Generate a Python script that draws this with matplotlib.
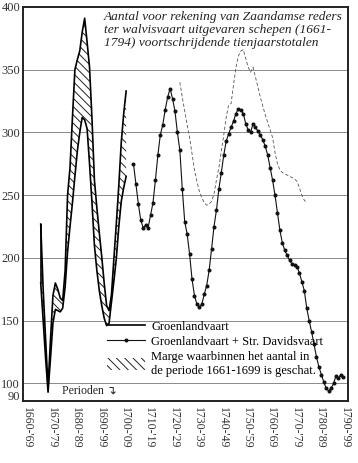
import numpy as np
import matplotlib
matplotlib.use("Agg")
import matplotlib.pyplot as plt
from matplotlib.lines import Line2D
from matplotlib.patches import Patch

# ten-year moving totals, indexed by first year of each window
est_years = np.arange(1661, 1697)
est_high = [227, 175, 135, 97, 135, 170, 180, 175, 168, 166, 190, 250, 272, 312,
            350, 358, 365, 380, 391, 372, 352, 311, 262, 240, 220, 201, 180, 162,
            158, 171, 200, 228, 258, 292, 315, 333]
est_low = [180, 150, 120, 93, 120, 148, 159, 158, 157, 160, 177, 205, 225, 244,
           265, 285, 300, 312, 310, 303, 275, 244, 210, 190, 174, 162, 152, 146,
           148, 165, 182, 200, 225, 245, 256, 265]

tot_years = np.arange(1699, 1786)
tot_vals = [275, 259, 243, 230, 224, 226, 224, 234, 244, 262, 282, 298, 306, 318,
            328, 335, 327, 317, 300, 286, 255, 229, 219, 203, 183, 170, 163, 161,
            163, 171, 178, 190, 207, 225, 238, 255, 268, 282, 293, 299, 304, 309,
            315, 319, 318, 315, 307, 302, 300, 307, 304, 301, 298, 294, 289, 282,
            272, 262, 250, 236, 222, 212, 206, 202, 198, 195, 194, 193, 188, 181,
            174, 160, 150, 141, 131, 121, 113, 107, 101, 96, 94, 96, 100, 106, 104,
            107, 105]

up_years = np.arange(1718, 1771)
up_vals = [340, 328, 317, 306, 296, 283, 270, 261, 253, 248, 244, 242, 243, 245,
           251, 262, 272, 285, 298, 312, 322, 323, 338, 352, 361, 365, 366, 359,
           352, 348, 352, 344, 336, 328, 321, 314, 308, 302, 296, 284, 275, 270,
           268, 267, 266, 265, 264, 263, 261, 256, 250, 246, 244]

decades = np.arange(1660, 1800, 10)
xlabels = ["%d-'%02d" % (d, (d + 9) % 100) for d in decades]
yticks = [90, 100, 150, 200, 250, 300, 350, 400]

serif = ["Liberation Serif", "DejaVu Serif"]
plt.rcParams["font.family"] = serif
plt.rcParams["hatch.linewidth"] = 0.7

fig = plt.figure(figsize=(3.58, 4.63), dpi=100)
ax = fig.add_axes([0.064, 0.134, 0.908, 0.851])

hatch = "\\\\\\\\"

# plot each window at its midpoint
ax.fill_between(est_years + 4.5, est_low, est_high, facecolor="white",
                edgecolor="#222222", hatch=hatch, linewidth=0)
ax.plot(est_years + 4.5, est_high, color="black", lw=1.2)
ax.plot(est_years + 4.5, est_low, color="black", lw=1.2)
ax.vlines(est_years[0] + 4.5, est_low[0], est_high[0], color="black", lw=1.2)

ax.plot(up_years + 4.5, up_vals, color="#555555", lw=0.6, ls=(0, (4, 2.5)))
ax.plot(tot_years + 4.5, tot_vals, color="#111111", lw=0.8,
        marker="o", ms=1.9, mec="#111111", mfc="#111111")

ax.set_xlim(1658.2, 1791.4)
ax.set_ylim(86, 400)
ax.set_yticks(yticks)
ax.set_yticklabels([str(v) for v in yticks], fontsize=9, color="#333333")
ax.set_xticks(decades)
ax.set_xticklabels(xlabels, rotation=270, fontsize=8.5, color="#333333")
ax.tick_params(length=0)
ax.tick_params(axis="y", pad=2)
ax.tick_params(axis="x", pad=4)
ax.yaxis.grid(True, color="#8a8a8a", lw=0.7)
ax.set_axisbelow(True)
for gl in (ax.get_ygridlines()[0], ax.get_ygridlines()[-1]):
    gl.set_visible(False)
for side in ax.spines:
    ax.spines[side].set_linewidth(1.4)
    ax.spines[side].set_color("#222222")

ax.text(0.249, 0.99, "Aantal voor rekening van Zaandamse reders\n"
        "ter walvisvaart uitgevaren schepen (1661-\n"
        "1794) voortschrijdende tienjaarstotalen",
        transform=ax.transAxes, ha="left", va="top", fontsize=9.6,
        style="italic", linespacing=1.1, color="#222222")

ax.text(0.12, 0.025, "Perioden \u21b4", transform=ax.transAxes, ha="left",
        va="center", fontsize=8.5, family=["Liberation Serif", "DejaVu Sans"],
        color="#222222")

handles = [
    Line2D([], [], color="black", lw=1.2),
    Line2D([], [], color="#111111", lw=0.8, marker="o", ms=1.9),
    Patch(facecolor="white", edgecolor="#222222", hatch=hatch, lw=0),
]
labels = ["Groenlandvaart", "Groenlandvaart + Str. Davidsvaart",
          "Marge waarbinnen het aantal in\nde periode 1661-1699 is geschat."]
ax.legend(handles, labels, loc="upper left", bbox_to_anchor=(0.26, 0.205),
          frameon=False, fontsize=9, handlelength=3.0, handleheight=1.0,
          handletextpad=0.5, labelspacing=0.2, borderpad=0, borderaxespad=0)

fig.savefig("out.png", dpi=100)
